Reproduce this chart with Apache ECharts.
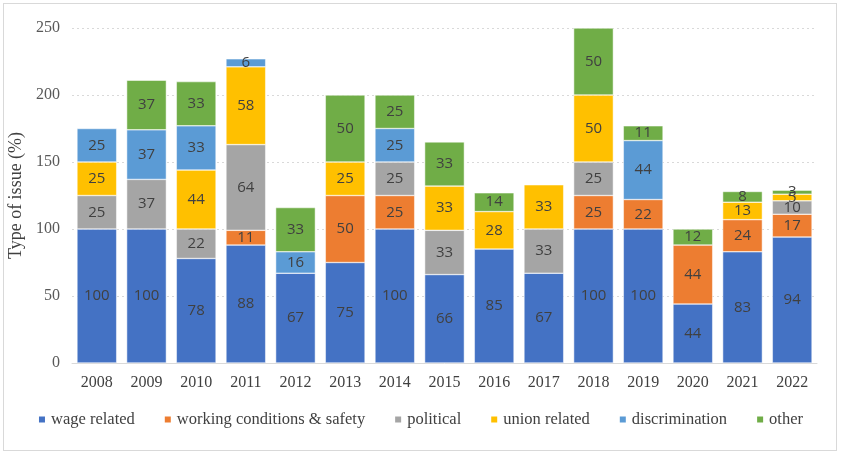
<!DOCTYPE html>
<html>
<head>
<meta charset="utf-8">
<script src="https://cdn.jsdelivr.net/npm/echarts@6/dist/echarts.min.js"></script>
<style>
  html, body { margin: 0; padding: 0; background: #fff; }
  #chart { position: absolute; left: 3px; top: 3px; width: 834px; height: 448px; border: 1px solid #d9d9d9; box-sizing: border-box; }
</style>
</head>
<body>
<div id="chart"></div>
<script>
// years on the x axis
var years = ['2008','2009','2010','2011','2012','2013','2014','2015','2016','2017','2018','2019','2020','2021','2022'];

// share of each issue type per year (null = not present)
var wage        = [100, 100, 78, 88, 67, 75, 100, 66, 85, 67, 100, 100, 44, 83, 94];
var conditions  = [null, null, null, 11, null, 50, 25, null, null, null, 25, 22, 44, 24, 17];
var political   = [25, 37, 22, 64, null, null, 25, 33, null, 33, 25, null, null, null, 10];
var union       = [25, null, 44, 58, null, 25, null, 33, 28, 33, 50, null, null, 13, 5];
var discrim     = [25, 37, 33, 6, 16, null, 25, null, null, null, null, 44, null, null, null];
var other       = [null, 37, 33, null, 33, 50, 25, 33, 14, null, 50, 11, 12, 8, 3];

var seriesDefs = [
  { name: 'wage related', data: wage, color: '#4472C4' },
  { name: 'working conditions & safety', data: conditions, color: '#ED7D31' },
  { name: 'political', data: political, color: '#A5A5A5' },
  { name: 'union related', data: union, color: '#FFC000' },
  { name: 'discrimination', data: discrim, color: '#5B9BD5' },
  { name: 'other', data: other, color: '#70AD47' }
];

var chart = echarts.init(document.getElementById('chart'));

var option = {
  animation: false,
  grid: { left: 68, right: 19, top: 24, bottom: 87, outerBoundsMode: 'none' },
  legend: {
    bottom: 17,
    left: 'center',
    itemWidth: 8,
    itemHeight: 8,
    itemGap: 28,
    icon: 'rect',
    textStyle: { fontFamily: 'Liberation Serif', fontSize: 16.5, color: '#404040' },
    data: seriesDefs.map(function (s) { return s.name; })
  },
  xAxis: {
    type: 'category',
    data: years,
    axisLine: { lineStyle: { color: '#d9d9d9', width: 1 } },
    axisTick: { show: false },
    axisLabel: { fontFamily: 'Liberation Serif', fontSize: 16, color: '#404040', margin: 12 }
  },
  yAxis: {
    type: 'value',
    min: 0,
    max: 250,
    interval: 50,
    name: 'Type of issue (%)',
    nameLocation: 'middle',
    nameGap: 44,
    nameTextStyle: { fontFamily: 'Liberation Serif', fontSize: 18, color: '#404040' },
    axisLine: { show: false },
    axisTick: { show: false },
    axisLabel: { fontFamily: 'Liberation Serif', fontSize: 16, color: '#595959', margin: 12 },
    splitLine: { lineStyle: { color: '#d9d9d9', type: [2, 3], width: 1 } }
  },
  series: seriesDefs.map(function (s) {
    return {
      name: s.name,
      type: 'bar',
      stack: 'total',
      barWidth: '80%',
      data: s.data,
      itemStyle: { color: s.color, borderColor: '#ffffff', borderWidth: 0.5 },
      label: {
        show: true,
        position: 'inside',
        fontFamily: 'Open Sans',
        fontSize: 15,
        color: '#404040'
      }
    };
  })
};

chart.setOption(option);
</script>
</body>
</html>
